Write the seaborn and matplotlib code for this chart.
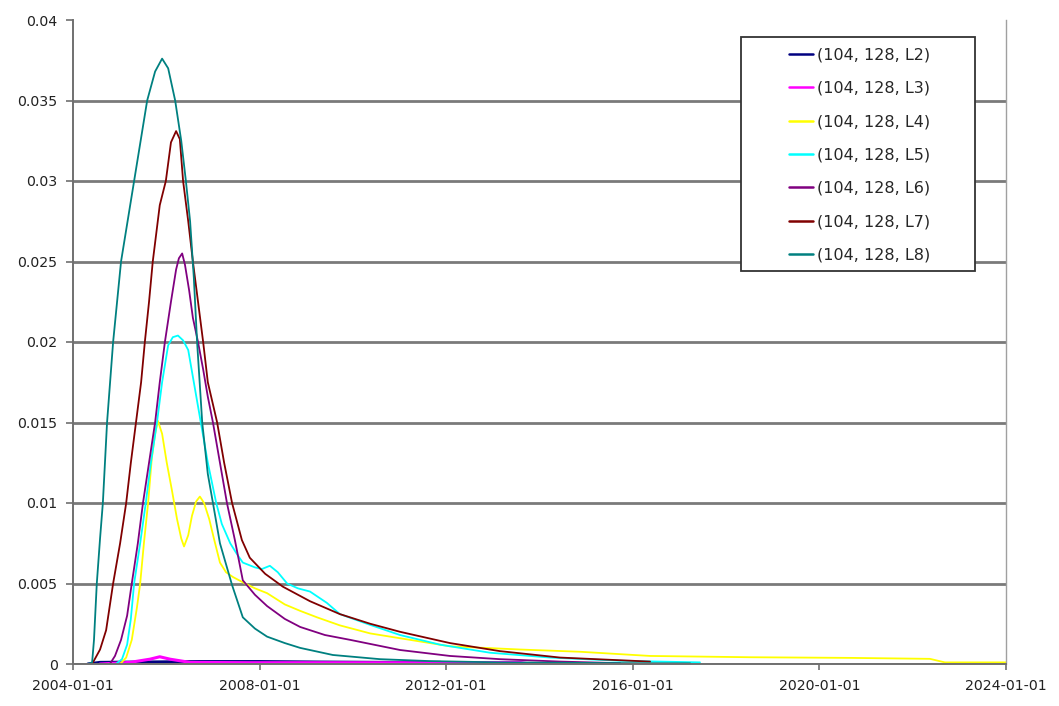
import numpy as np
import pandas as pd
import matplotlib
matplotlib.use("Agg")
import matplotlib.pyplot as plt
from matplotlib.patches import Rectangle
import seaborn as sns

# ---- data: time in years after 2004-01-01, value per series ----
series_names = ["(104, 128, L2)", "(104, 128, L3)", "(104, 128, L4)", "(104, 128, L5)",
                "(104, 128, L6)", "(104, 128, L7)", "(104, 128, L8)"]
series_colors = ["#000080", "#FF00FF", "#FFFF00", "#00FFFF", "#800080", "#800000", "#008080"]

l2_years = [0.32, 0.58, 1.44, 2.72, 4.01, 5.29, 6.58, 7.87, 8.08]
l2_values = [0, 0.0001, 0.00012, 0.00015, 0.00015, 0.00012, 0.0001, 0.0001, 0]

l3_years = [0.58, 1.22, 1.65, 1.86, 2.08, 2.51, 3.79, 5.94, 8.08, 9.58, 9.80]
l3_values = [0, 0.0001, 0.0003, 0.00045, 0.0003, 0.0001, 0.00008, 0.00008, 0.00008, 0.0001, 0]

l4_years = [1.01, 1.14, 1.26, 1.37, 1.44, 1.52, 1.61, 1.69, 1.76, 1.82, 1.91, 2.01, 2.12,
            2.23, 2.32, 2.38, 2.47, 2.55, 2.64, 2.72, 2.81, 2.92, 3.02, 3.15, 3.28, 3.43,
            3.69, 3.90, 4.16, 4.54, 4.87, 5.23, 5.72, 6.37, 7.01, 8.08, 9.58, 10.87,
            12.37, 14.51, 16.66, 18.37, 18.69, 20.0]
l4_values = [0, 0.0004, 0.0015, 0.0035, 0.005, 0.0075, 0.010, 0.0128, 0.0143, 0.0151,
             0.0143, 0.0125, 0.0108, 0.0090, 0.0078, 0.0073, 0.0080, 0.0092, 0.0101,
             0.0104, 0.0100, 0.0090, 0.0078, 0.0063, 0.0057, 0.0054, 0.0050, 0.0047,
             0.0044, 0.0037, 0.0033, 0.0029, 0.0024, 0.0019, 0.0016, 0.0011, 0.0009,
             0.00076, 0.0005, 0.00042, 0.00038, 0.00032, 0.0001, 0.0001]

l5_years = [0.92, 1.05, 1.16, 1.24, 1.31, 1.44, 1.56, 1.67, 1.80, 1.91, 2.04, 2.14, 2.25,
            2.36, 2.47, 2.59, 2.74, 2.89, 3.07, 3.19, 3.37, 3.52, 3.64, 3.90, 4.05, 4.22,
            4.39, 4.59, 4.82, 5.08, 5.44, 5.72, 6.30, 7.01, 7.87, 8.94, 10.23, 11.73, 13.44]
l5_values = [0, 0.0003, 0.0012, 0.0028, 0.005, 0.0075, 0.010, 0.0125, 0.015, 0.0175,
             0.0198, 0.0203, 0.0204, 0.0201, 0.0195, 0.0175, 0.015, 0.0125, 0.010,
             0.0087, 0.0075, 0.0068, 0.0063, 0.0060, 0.0059, 0.0061, 0.0057, 0.0050,
             0.0047, 0.0045, 0.0038, 0.0031, 0.0025, 0.0018, 0.0012, 0.0007, 0.0004,
             0.0002, 0.0001]

l6_years = [0.79, 0.90, 1.03, 1.16, 1.26, 1.39, 1.50, 1.63, 1.76, 1.86, 1.97, 2.10, 2.21,
            2.27, 2.34, 2.40, 2.49, 2.57, 2.68, 2.79, 2.89, 3.00, 3.15, 3.30, 3.47, 3.64,
            3.90, 4.16, 4.54, 4.87, 5.40, 5.94, 7.01, 8.08, 9.15, 10.44, 11.73]
l6_values = [0, 0.0005, 0.0015, 0.003, 0.005, 0.0075, 0.010, 0.0125, 0.015, 0.0175,
             0.020, 0.0225, 0.0245, 0.0252, 0.0255, 0.0248, 0.0232, 0.0215, 0.020,
             0.0183, 0.0166, 0.015, 0.0125, 0.010, 0.0077, 0.0052, 0.0043, 0.0036,
             0.0028, 0.0023, 0.0018, 0.0015, 0.00087, 0.0005, 0.0003, 0.00015, 0.00005]

l7_years = [0.41, 0.58, 0.71, 0.86, 1.01, 1.14, 1.24, 1.35, 1.46, 1.54, 1.63, 1.71, 1.86,
            1.99, 2.10, 2.21, 2.29, 2.36, 2.47, 2.57, 2.68, 2.79, 2.89, 3.09, 3.24, 3.41,
            3.62, 3.79, 4.12, 4.50, 5.08, 5.72, 6.37, 7.01, 8.08, 9.15, 10.44, 12.37]
l7_values = [0, 0.0009, 0.0021, 0.005, 0.0075, 0.010, 0.0125, 0.015, 0.0175, 0.020,
             0.0225, 0.025, 0.0285, 0.030, 0.0324, 0.0331, 0.0326, 0.030, 0.0275, 0.025,
             0.0225, 0.020, 0.0175, 0.015, 0.0125, 0.010, 0.0077, 0.0066, 0.0056,
             0.0048, 0.0039, 0.0031, 0.0025, 0.0020, 0.0013, 0.0008, 0.0004, 0.00015]

l8_years = [0.32, 0.41, 0.45, 0.51, 0.58, 0.64, 0.73, 0.86, 1.03, 1.31, 1.59, 1.76, 1.91,
            2.04, 2.19, 2.32, 2.42, 2.51, 2.59, 2.66, 2.77, 2.89, 3.00, 3.15, 3.41, 3.64,
            3.90, 4.16, 4.54, 4.87, 5.57, 6.58, 7.65, 9.15, 11.30, 13.23]
l8_values = [0, 0.0001, 0.0015, 0.005, 0.0078, 0.010, 0.015, 0.020, 0.025, 0.030, 0.035,
             0.0368, 0.0376, 0.0370, 0.035, 0.0325, 0.030, 0.0275, 0.024, 0.020, 0.015,
             0.0118, 0.010, 0.0075, 0.0049, 0.0029, 0.0022, 0.0017, 0.0013, 0.0010,
             0.00056, 0.0003, 0.00018, 0.0001, 0.00006, 0.00004]

ytick_values = [0, 0.005, 0.01, 0.015, 0.02, 0.025, 0.03, 0.035, 0.04]
ytick_labels = ["0", "0.005", "0.01", "0.015", "0.02", "0.025", "0.03", "0.035", "0.04"]
xtick_labels = ["2004-01-01", "2008-01-01", "2012-01-01", "2016-01-01", "2020-01-01", "2024-01-01"]

all_years = [l2_years, l3_years, l4_years, l5_years, l6_years, l7_years, l8_years]
all_values = [l2_values, l3_values, l4_values, l5_values, l6_values, l7_values, l8_values]

start = pd.Timestamp("2004-01-01")
frames = []
for name, yrs, vals in zip(series_names, all_years, all_values):
    dates = start + pd.to_timedelta(np.asarray(yrs) * 365.25, unit="D")
    frames.append(pd.DataFrame({"date": dates, "value": vals, "series": name}))
df = pd.concat(frames, ignore_index=True)

# ---- styling ----
sns.set_theme(style="white")
plt.rcParams["font.family"] = ["DejaVu Sans"]

fig = plt.figure(figsize=(10.59, 7.06), dpi=100)
ax = fig.add_axes([73 / 1059, 1 - 664 / 706, (1006 - 73) / 1059, (664 - 20) / 706])

sns.lineplot(data=df, x="date", y="value", hue="series", hue_order=series_names,
             palette=series_colors, linewidth=1.3, estimator=None, ax=ax, legend=False)
for ln, name in zip(ax.lines, series_names):
    if name in ("(104, 128, L2)", "(104, 128, L3)"):
        ln.set_linewidth(2.2)

ax.set_xlim(start, pd.Timestamp("2024-01-01"))
ax.set_ylim(0, 0.04)
ax.set_yticks(ytick_values)
ax.set_yticklabels(ytick_labels)
ax.set_xticks(pd.to_datetime(xtick_labels))
ax.set_xticklabels(xtick_labels)
ax.set_xlabel("")
ax.set_ylabel("")

ax.yaxis.grid(True, color="#7a7a7a", linewidth=2.0)
ax.xaxis.grid(False)
ax.set_axisbelow(True)
ax.yaxis.get_gridlines()[-1].set_visible(False)

for side in ("left", "bottom"):
    ax.spines[side].set_color("#707070")
    ax.spines[side].set_linewidth(1.4)
ax.spines["right"].set_color("#a0a0a0")
ax.spines["right"].set_linewidth(1.0)
ax.spines["top"].set_visible(False)

ax.tick_params(axis="y", which="major", direction="out", length=5, width=1.2,
               color="#707070", labelsize=10.2, labelcolor="#222222", pad=6, left=True)
ax.tick_params(axis="x", which="major", direction="out", length=4, width=1.2,
               color="#707070", labelsize=10.2, labelcolor="#222222", pad=7, bottom=True)

# legend box
box = Rectangle((741 / 1059, 1 - 271 / 706), (975 - 741) / 1059, (271 - 37) / 706,
                transform=fig.transFigure, facecolor="white", edgecolor="#333333",
                linewidth=1.3, zorder=5)
fig.patches.append(box)
handles = [plt.Line2D([], [], color=c, linewidth=1.8) for c in series_colors]
leg = fig.legend(handles, series_names, loc="center",
                 bbox_to_anchor=(860 / 1059, 1 - 155 / 706), frameon=False,
                 fontsize=11.5, labelspacing=1.15, handlelength=1.5, handletextpad=0.25)
leg.set_zorder(6)

fig.savefig("out.png", dpi=100, facecolor="white")
